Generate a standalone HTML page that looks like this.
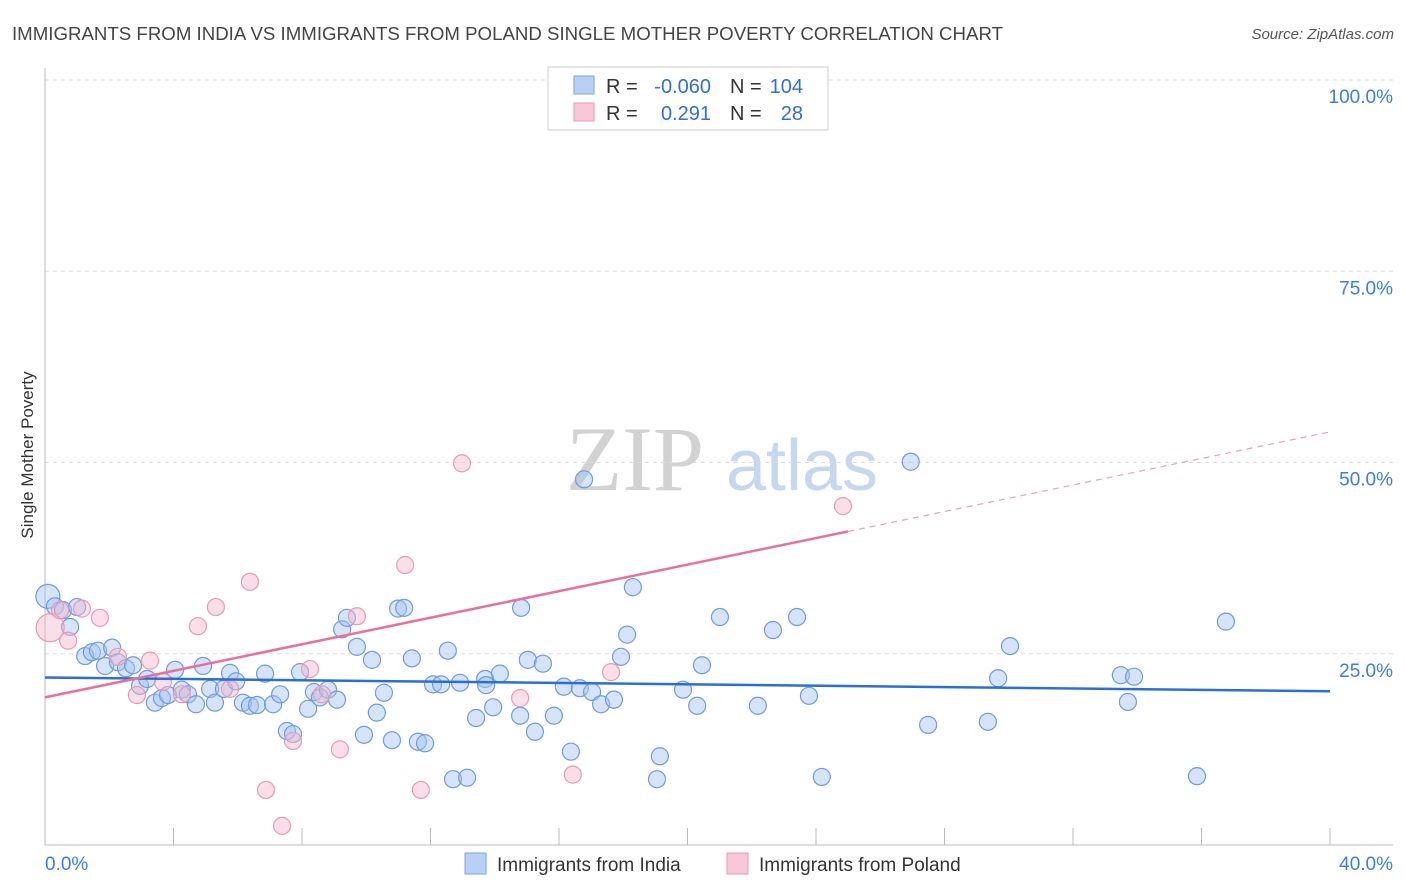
<!DOCTYPE html>
<html><head><meta charset="utf-8"><style>
body{margin:0;background:#fff;font-family:"Liberation Sans",sans-serif;}
svg{display:block}
</style></head><body>
<svg id="chart" width="1406" height="892" xmlns="http://www.w3.org/2000/svg">
<text x="12" y="40" font-size="18" fill="#444" textLength="991" lengthAdjust="spacingAndGlyphs">IMMIGRANTS FROM INDIA VS IMMIGRANTS FROM POLAND SINGLE MOTHER POVERTY CORRELATION CHART</text>
<text x="1394" y="39" font-size="15" fill="#555" text-anchor="end" font-style="italic">Source: ZipAtlas.com</text>
<text transform="translate(33,455) rotate(-90)" font-size="17" fill="#333" text-anchor="middle">Single Mother Poverty</text>
<g>
<text x="635" y="490" font-size="92" fill="#d2d2d2" font-family="Liberation Serif,serif" text-anchor="middle">ZIP</text>
<text x="802" y="490" font-size="72" fill="#c5d8f0" text-anchor="middle">atlas</text>
</g>
<g id="grid"></g><g id="ticks"></g><g id="marks"></g>
<g>
<rect x="548" y="67" width="280" height="63" fill="#fff" stroke="#ccc"/>
<rect x="574" y="76" width="20" height="18" fill="#b8d0f5" stroke="#7aa3e0"/>
<rect x="574" y="103" width="20" height="18" fill="#f9c8d8" stroke="#e89ab4"/>
<text x="606" y="93" font-size="20" fill="#333">R =</text>
<text x="711" y="93" font-size="20" fill="#2f6fd6" text-anchor="end">-0.060</text>
<text x="730" y="93" font-size="20" fill="#333">N =</text>
<text x="803" y="93" font-size="20" fill="#2f6fd6" text-anchor="end">104</text>
<text x="606" y="120" font-size="20" fill="#333">R =</text>
<text x="711" y="120" font-size="20" fill="#2f6fd6" text-anchor="end">0.291</text>
<text x="730" y="120" font-size="20" fill="#333">N =</text>
<text x="803" y="120" font-size="20" fill="#2f6fd6" text-anchor="end">28</text>
</g>
<g>
<rect x="465" y="853" width="21" height="21" fill="#b8d0f5" stroke="#7aa3e0"/>
<text x="497" y="871" font-size="19" fill="#333">Immigrants from India</text>
<rect x="727" y="853" width="21" height="21" fill="#f9c8d8" stroke="#e89ab4"/>
<text x="759" y="871" font-size="19" fill="#333">Immigrants from Poland</text>
</g>
</svg>
<script>
const indiaX=[0.09,0.31,0.56,0.78,1.0,1.25,1.46,1.65,1.87,2.09,2.27,2.52,2.74,2.96,3.18,3.42,3.64,3.83,4.05,4.26,4.45,4.70,4.92,5.14,5.29,5.57,5.76,5.95,6.16,6.38,6.60,6.85,7.10,7.32,7.53,7.72,7.94,8.19,8.37,8.56,8.81,9.09,9.25,9.40,9.71,9.93,10.18,10.33,10.55,10.80,10.99,11.18,11.42,11.61,11.83,12.08,12.33,12.54,12.70,12.92,13.14,13.42,13.70,13.73,13.95,14.16,14.79,14.82,15.03,15.25,15.50,15.84,16.15,16.37,16.65,16.78,17.03,17.31,17.71,17.93,18.12,18.30,19.05,19.14,19.86,20.30,20.45,21.01,22.19,22.66,23.41,23.78,24.18,26.95,27.49,29.35,29.67,30.04,33.49,33.71,33.90,35.86,36.76];
const indiaY=[32.5,31.2,30.7,28.5,31.1,24.7,25.2,25.4,23.4,25.8,23.9,23.1,23.5,20.8,21.7,18.6,19.2,19.6,22.9,20.3,19.7,18.4,23.4,20.4,18.6,20.4,22.5,21.4,18.6,18.2,18.3,22.4,18.4,19.7,14.9,14.5,22.6,17.8,20.0,19.3,20.3,19.0,28.2,29.7,25.9,14.4,24.2,17.3,19.9,13.7,30.9,31.0,24.4,13.5,13.3,21.0,21.0,25.4,8.6,21.2,8.8,16.6,21.7,20.9,18.0,22.4,16.9,31.0,24.2,14.8,23.7,16.9,20.7,12.2,20.5,47.8,20.0,18.4,19.0,24.6,27.5,33.7,8.6,11.6,20.3,18.2,23.5,29.8,18.2,28.1,29.8,19.5,8.9,50.1,15.7,16.1,21.8,26.0,22.2,18.7,22.0,9.0,29.2];
const polandX=[0.16,0.47,0.72,1.15,1.71,2.27,2.86,3.27,3.67,4.26,4.76,5.32,5.76,6.38,6.88,7.38,7.72,8.25,8.62,9.18,9.71,11.21,11.70,12.98,14.79,16.43,17.62,24.84];
const polandY=[28.4,30.7,26.7,30.9,29.7,24.6,19.6,24.1,21.3,19.7,28.6,31.1,20.4,34.4,7.2,2.5,13.6,23.0,19.7,12.5,29.9,36.6,7.2,49.9,19.2,9.2,22.6,44.3];
const indiaTrend=[21.9,20.1];
const polandTrend=[19.3,54.0];
const yTicks=[25,50,75,100];
const yTickLabels=["25.0%","50.0%","75.0%","100.0%"];
const xTicks=[0,4,8,12,16,20,24,28,32,36,40];

const NS="http://www.w3.org/2000/svg";
const sx=v=>45+v/40*1285;
const sy=v=>845-v/100*765;
function mk(tag,attrs,parent){const e=document.createElementNS(NS,tag);for(const k in attrs)e.setAttribute(k,attrs[k]);parent.appendChild(e);return e;}
const grid=document.getElementById('grid'),ticks=document.getElementById('ticks'),marks=document.getElementById('marks');
yTicks.forEach((t,i)=>{
 const l=mk('line',{x1:45,x2:1393,y1:sy(t),y2:sy(t),stroke:'#ddd','stroke-dasharray':'4,4'},grid);
 
 
 const tx=mk('text',{x:1393,y:sy(t)+23,'font-size':19,fill:'#3b7de0','text-anchor':'end'},ticks);
 tx.textContent=yTickLabels[i];
 
 
});
const ax=mk('line',{x1:45,x2:1393,y1:845,y2:845,stroke:'#bbb'},ticks);


const ay=mk('line',{x1:45,x2:45,y1:68,y2:845,stroke:'#bbb'},ticks);


xTicks.forEach(t=>{
 const l=mk('line',{x1:sx(t),x2:sx(t),y1:828,y2:845,stroke:'#bbb'},ticks);
 
 
});
const xl0=mk('text',{x:45,y:870,'font-size':19,fill:'#3b7de0'},ticks);xl0.textContent='0.0%';


const xl1=mk('text',{x:1393,y:870,'font-size':19,fill:'#3b7de0','text-anchor':'end'},ticks);xl1.textContent='40.0%';



indiaX.forEach((x,i)=>{
 const c=mk('circle',{cx:sx(x),cy:sy(indiaY[i]),r:i==0?12:8.5,fill:'rgba(165,195,242,0.45)',stroke:'#6f9be0','stroke-width':1.2},marks);
 
 
});
polandX.forEach((x,i)=>{
 const c=mk('circle',{cx:sx(x),cy:sy(polandY[i]),r:i==0?14:8.5,fill:'rgba(246,185,205,0.45)',stroke:'#e89ab4','stroke-width':1.2},marks);
 
 
});
const bt=mk('line',{x1:sx(0),y1:sy(indiaTrend[0]),x2:sx(40),y2:sy(indiaTrend[1]),stroke:'#2a6fd6','stroke-width':2.5},marks);


const pAt=x=>polandTrend[0]+(polandTrend[1]-polandTrend[0])*x/40;
const pt=mk('line',{x1:sx(0),y1:sy(pAt(0)),x2:sx(25),y2:sy(pAt(25)),stroke:'#e8709a','stroke-width':2.5},marks);


const pd=mk('line',{x1:sx(25),y1:sy(pAt(25)),x2:sx(40),y2:sy(pAt(40)),stroke:'#eaa0b8','stroke-width':1.2,'stroke-dasharray':'6,5'},marks);


</script>
</body></html>
